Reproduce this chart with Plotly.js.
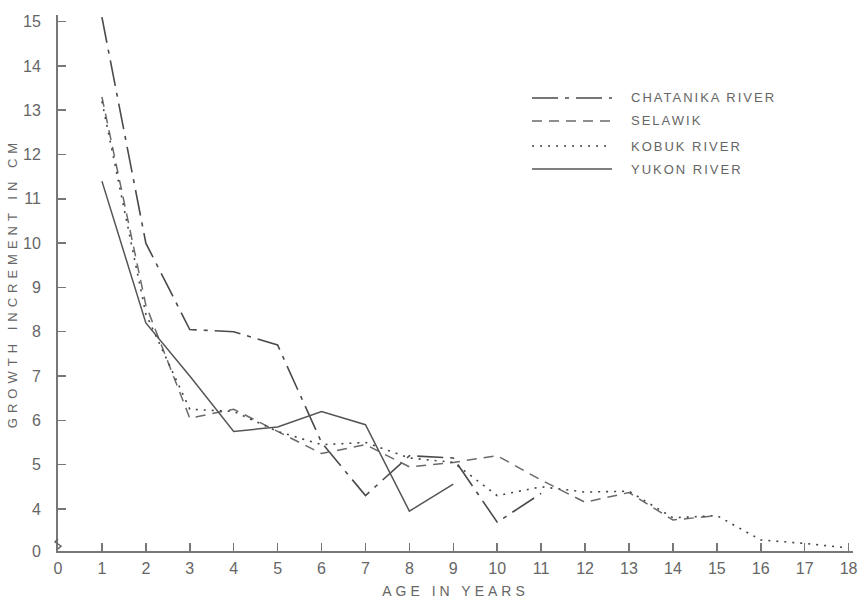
<!DOCTYPE html>
<html>
<head>
<meta charset="utf-8">
<script src="https://cdn.plot.ly/plotly-3.0.1.min.js"></script>
<style>
  html, body { margin: 0; padding: 0; background: #fff; }
  #chart { width: 859px; height: 599px; }
  .ytitle { letter-spacing: 5px; }
  .xtitle { letter-spacing: 4px; }
  .annotation-text { letter-spacing: 2px; }
</style>
</head>
<body>
<div id="chart"></div>
<script>
// Ages (years) for each series
const chatanikaAges = [1, 2, 3, 4, 5, 6, 7, 8, 9, 10, 11];
const chatanikaVals = [15.1, 10.0, 8.05, 8.0, 7.7, 5.5, 4.3, 5.2, 5.15, 3.7, 4.35];

const selawikAges = [1, 2, 3, 4, 5, 6, 7, 8, 9, 10, 11, 12, 13, 14, 15];
const selawikVals = [13.3, 8.6, 6.05, 6.25, 5.75, 5.25, 5.45, 4.95, 5.05, 5.2, 4.65, 4.15, 4.37, 3.75, 3.85];

const kobukAges = [1, 2, 3, 4, 5, 6, 7, 8, 9, 10, 11, 12, 13, 14, 15, 16, 17, 18];
const kobukVals = [13.2, 8.4, 6.25, 6.2, 5.75, 5.45, 5.5, 5.15, 5.05, 4.3, 4.5, 4.38, 4.4, 3.8, 3.85, 3.3, 3.22, 3.12];

const yukonAges = [1, 2, 3, 4, 5, 6, 7, 8, 9];
const yukonVals = [11.4, 8.2, 7.0, 5.75, 5.85, 6.2, 5.9, 3.95, 4.56];

const seriesNames = ["CHATANIKA RIVER", "SELAWIK", "KOBUK RIVER", "YUKON RIVER"];

// Axis ticks (broken y axis: bottom labelled 0)
const xTickVals = [0,1,2,3,4,5,6,7,8,9,10,11,12,13,14,15,16,17,18];
const xTickText = ["0","1","2","3","4","5","6","7","8","9","10","11","12","13","14","15","16","17","18"];
const yTickVals = [3.05,4,5,6,7,8,9,10,11,12,13,14,15];
const yTickText = ["0","4","5","6","7","8","9","10","11","12","13","14","15"];

const styles = [
  {color: "#4a4a4a", width: 1.6, dash: "26px,7px,4px,7px"},
  {color: "#6a6a6a", width: 1.5, dash: "10px,7px"},
  {color: "#444444", width: 1.6, dash: "2px,6px"},
  {color: "#555555", width: 1.5, dash: "solid"}
];

const allAges = [chatanikaAges, selawikAges, kobukAges, yukonAges];
const allVals = [chatanikaVals, selawikVals, kobukVals, yukonVals];

const traces = seriesNames.map((name, i) => ({
  type: "scatter",
  mode: "lines",
  name: name,
  x: allAges[i],
  y: allVals[i],
  line: styles[i],
  showlegend: false,
  hoverinfo: "skip"
}));

// Custom legend (long line samples like the original)
const M = {l: 58, r: 6, t: 15, b: 48};
const W = 859 - M.l - M.r, H = 599 - M.t - M.b;
const px = v => (v - M.l) / W;
const py = v => (599 - M.b - v) / H;
const legendRows = [98, 121, 146, 169];
const shapes = [];
const annotations = [];
seriesNames.forEach((name, i) => {
  shapes.push({
    type: "line", xref: "paper", yref: "paper",
    x0: px(532), x1: px(612), y0: py(legendRows[i]), y1: py(legendRows[i]),
    line: {color: styles[i].color, width: styles[i].width, dash: styles[i].dash}
  });
  annotations.push({
    xref: "paper", yref: "paper", x: px(629), y: py(legendRows[i]),
    xanchor: "left", yanchor: "middle", showarrow: false,
    text: name, font: {family: "Liberation Sans, Arial, sans-serif", size: 13, color: "#666"}
  });
});
// axis-break squiggle on the y axis
shapes.push({
  type: "path", xref: "paper", yref: "paper",
  path: "M " + px(58) + "," + py(549) + " L " + px(61) + "," + py(546) +
        " L " + px(55) + "," + py(542) + " L " + px(58) + "," + py(539),
  line: {color: "#666", width: 1.5}
});

const layout = {
  width: 859, height: 599,
  margin: M,
  paper_bgcolor: "#fff", plot_bgcolor: "#fff",
  font: {family: "Liberation Sans, Arial, sans-serif", color: "#666"},
  xaxis: {
    range: [0, 18.1],
    tickmode: "array", tickvals: xTickVals, ticktext: xTickText,
    ticks: "inside", ticklen: 8, tickwidth: 1.5, tickcolor: "#777",
    ticklabelstandoff: 2,
    showline: true, linecolor: "#777", linewidth: 2,
    showgrid: false, zeroline: false,
    tickfont: {size: 16, color: "#666"},
    title: {text: "AGE IN YEARS", font: {size: 14, color: "#666"}, standoff: 10},
    automargin: false
  },
  yaxis: {
    range: [3.05, 15.15],
    tickmode: "array", tickvals: yTickVals, ticktext: yTickText,
    ticks: "inside", ticklen: 8, tickwidth: 1.5, tickcolor: "#777",
    ticklabelstandoff: 12,
    showline: true, linecolor: "#777", linewidth: 2,
    showgrid: false, zeroline: false,
    tickfont: {size: 16, color: "#666"},
    title: {text: "GROWTH INCREMENT IN CM", font: {size: 13, color: "#666"}, standoff: 2},
    automargin: false
  },
  shapes: shapes,
  annotations: annotations,
  showlegend: false
};

Plotly.newPlot("chart", traces, layout, {displayModeBar: false, staticPlot: true});
</script>
</body>
</html>
